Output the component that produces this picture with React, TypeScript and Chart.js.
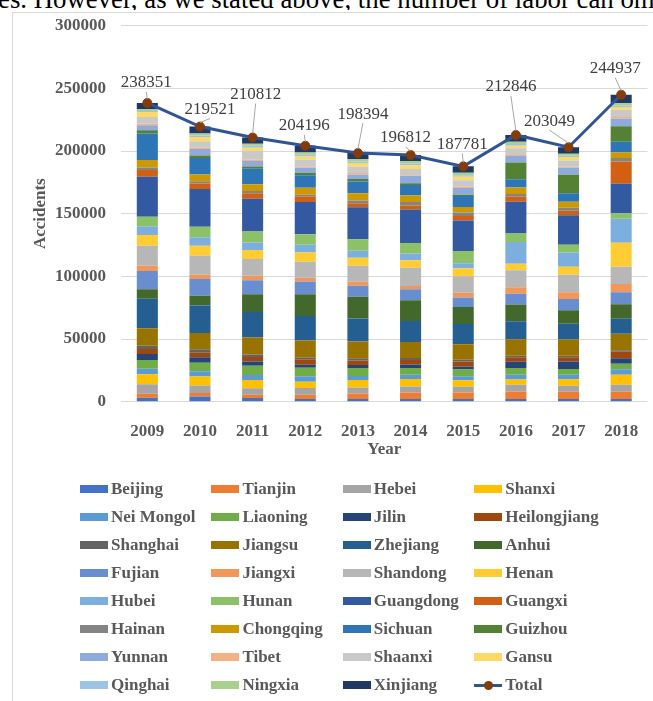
import React, { useEffect, useRef } from "react";
import { Chart, registerables } from "chart.js";
Chart.register(...registerables);

const years = ["2009", "2010", "2011", "2012", "2013", "2014", "2015", "2016", "2017", "2018"];

const Beijing = [3200, 4200, 2900, 2100, 2100, 2100, 2100, 2100, 2100, 2100];
const Tianjin = [3200, 2700, 2700, 3500, 4500, 5300, 5300, 6100, 5900, 5900];
const Hebei = [7500, 6100, 5100, 5300, 4800, 4800, 4500, 5300, 4800, 5600];
const Shanxi = [8000, 7200, 6700, 5100, 5900, 5900, 5300, 4300, 5100, 8000];
const NeiMongol = [4300, 4000, 4000, 4300, 3200, 3500, 3200, 3700, 3700, 4300];
const Liaoning = [7000, 6900, 7200, 6700, 6400, 5300, 5300, 5300, 4500, 4300];
const Jilin = [4800, 4300, 3500, 2400, 2400, 2700, 2400, 5100, 5900, 4500];
const Heilongjiang = [4000, 3700, 3500, 4000, 3500, 3700, 4000, 3500, 3500, 5100];
const Shanghai = [2700, 2700, 2100, 1600, 1900, 1600, 1300, 1300, 1100, 1300];
const Jiangsu = [13900, 13100, 13600, 13900, 13400, 12800, 12500, 13100, 13100, 13100];
const Zhejiang = [23500, 21900, 20300, 19500, 18200, 16600, 16000, 14400, 12500, 12000];
const Anhui = [7700, 7700, 14200, 17400, 17400, 16600, 13600, 13400, 10700, 11500];
const Fujian = [14400, 13300, 11200, 10100, 8800, 8800, 7700, 8500, 9100, 9600];
const Jiangxi = [4300, 3500, 3500, 2900, 3200, 2700, 3700, 5300, 5300, 6700];
const Shandong = [16000, 15200, 13400, 12800, 12800, 14400, 13100, 13400, 13900, 13600];
const Henan = [8500, 8000, 7200, 7500, 6400, 6100, 6400, 5300, 6400, 19200];
const Hubei = [7000, 6700, 5900, 6100, 5600, 5300, 4000, 17400, 11500, 19200];
const Hunan = [7500, 8300, 8800, 8500, 9100, 8500, 9900, 6700, 6100, 4300];
const Guangdong = [32000, 30200, 26200, 25600, 25600, 26700, 24300, 25400, 23500, 23500];
const Guangxi = [5300, 4300, 4300, 4300, 3200, 3200, 3500, 4000, 3700, 17900];
const Hainan = [2100, 1900, 1900, 1600, 2100, 2700, 2900, 2100, 2400, 2700];
const Chongqing = [5900, 5300, 5300, 5600, 5900, 5300, 4300, 5300, 4800, 4500];
const Sichuan = [21100, 13300, 12300, 9900, 9300, 8300, 8800, 6400, 6700, 8500];
const Guizhou = [2700, 1900, 1900, 1900, 1900, 1300, 1100, 13400, 14700, 12300];
const Yunnan = [4000, 5300, 4300, 4000, 3500, 5900, 5300, 5300, 5600, 6100];
const Tibet = [1300, 1100, 1300, 1100, 1300, 500, 1100, 800, 800, 1300];
const Shaanxi = [5300, 5100, 6700, 5300, 5100, 5100, 5100, 5300, 5100, 5900];
const Gansu = [4000, 3200, 2700, 2700, 2900, 2900, 2700, 2100, 2700, 2100];
const Qinghai = [800, 1300, 1600, 1300, 1300, 1600, 1300, 1300, 1100, 1300];
const Ningxia = [1600, 1600, 1600, 1900, 1900, 1900, 1900, 1900, 1600, 1900];
const Xinjiang = [4750, 5500, 4900, 5300, 4800, 4700, 5200, 5300, 5100, 6600];

const Total = [238351, 219521, 210812, 204196, 198394, 196812, 187781, 212846, 203049, 244937];

const provinceNames = [
  "Beijing", "Tianjin", "Hebei", "Shanxi", "Nei Mongol", "Liaoning", "Jilin", "Heilongjiang",
  "Shanghai", "Jiangsu", "Zhejiang", "Anhui", "Fujian", "Jiangxi", "Shandong", "Henan",
  "Hubei", "Hunan", "Guangdong", "Guangxi", "Hainan", "Chongqing", "Sichuan", "Guizhou",
  "Yunnan", "Tibet", "Shaanxi", "Gansu", "Qinghai", "Ningxia", "Xinjiang",
];
const provinceValues = [
  Beijing, Tianjin, Hebei, Shanxi, NeiMongol, Liaoning, Jilin, Heilongjiang,
  Shanghai, Jiangsu, Zhejiang, Anhui, Fujian, Jiangxi, Shandong, Henan,
  Hubei, Hunan, Guangdong, Guangxi, Hainan, Chongqing, Sichuan, Guizhou,
  Yunnan, Tibet, Shaanxi, Gansu, Qinghai, Ningxia, Xinjiang,
];
const palette = [
  "#4472C4", "#ED7D31", "#A5A5A5", "#FFC000", "#5B9BD5", "#70AD47", "#264478", "#9E480E",
  "#636363", "#997300", "#255E91", "#43682B", "#698ED0", "#F1975A", "#B7B7B7", "#FFCD33",
  "#7CAFDD", "#8CC168", "#335AA1", "#D26012", "#848484", "#CC9A00", "#2E75B6", "#548235",
  "#8FAADC", "#F4B183", "#C9C9C9", "#FFD966", "#9DC3E6", "#A9D18E", "#203864",
];
const yTicks = [0, 50000, 100000, 150000, 200000, 250000, 300000];

const FONT = '"Liberation Serif", "Times New Roman", serif';
const TEXT = "#595959";
const LINE_COLOR = "#2F5597";
const DOT_COLOR = "#843C0C";

// label placement relative to each total point (style only)
const labelOffsets = [
  [-1, -20], [10, -17], [3, -43], [-1, -20], [5, -39],
  [-5, -17], [-1, -22], [-5, -48], [-19, -26], [-6, -26],
];

const totalLabelPlugin = {
  id: "totalLabels",
  afterDatasetsDraw(chart: any) {
    const idx = chart.data.datasets.length - 1;
    const meta = chart.getDatasetMeta(idx);
    const ctx = chart.ctx;
    ctx.save();
    ctx.font = `17px ${FONT}`;
    ctx.textAlign = "center";
    ctx.textBaseline = "middle";
    meta.data.forEach((pt: any, i: number) => {
      const [dx, dy] = labelOffsets[i];
      const lx = pt.x + dx;
      const ly = pt.y + dy;
      const bottom = ly + 9;
      if (pt.y - 5 - bottom > 2) {
        ctx.strokeStyle = "#A6A6A6";
        ctx.lineWidth = 1;
        ctx.beginPath();
        ctx.moveTo(lx, bottom);
        ctx.lineTo(pt.x, pt.y - 4);
        ctx.stroke();
      }
      ctx.fillStyle = "#404040";
      ctx.fillText(String(chart.data.datasets[idx].data[i]), lx, ly);
    });
    ctx.restore();
  },
};

function ChartCanvas() {
  const ref = useRef<HTMLCanvasElement | null>(null);
  useEffect(() => {
    if (!ref.current) return;
    const datasets: any[] = provinceNames.map((name, i) => ({
      type: "bar",
      label: name,
      data: provinceValues[i],
      backgroundColor: palette[i],
      borderWidth: 0,
      stack: "prov",
      order: 1,
      barPercentage: 0.4,
      categoryPercentage: 1,
    }));
    datasets.push({
      type: "line",
      label: "Total",
      data: Total,
      borderColor: LINE_COLOR,
      borderWidth: 3,
      pointRadius: 4.5,
      pointBackgroundColor: DOT_COLOR,
      pointBorderColor: DOT_COLOR,
      pointBorderWidth: 1,
      tension: 0,
      stack: "total",
      order: 0,
    });
    const chart = new Chart(ref.current, {
      type: "bar",
      data: { labels: years, datasets },
      options: {
        responsive: false,
        animation: false,
        devicePixelRatio: 1,
        layout: { padding: { left: 0, right: 4, top: 25.7, bottom: 701 - 401.7 - 60 } },
        plugins: { legend: { display: false }, tooltip: { enabled: false } },
        scales: {
          x: {
            stacked: true,
            grid: { display: false },
            border: { display: false },
            ticks: { font: { family: FONT, size: 17, weight: "bold" }, color: TEXT, padding: 12 },
            title: {
              display: true,
              text: "Year",
              font: { family: FONT, size: 17, weight: "bold" },
              color: TEXT,
              padding: { top: 0, bottom: 1.5 },
            },
            afterFit: (s: any) => { s.height = 60; },
          },
          y: {
            stacked: true,
            min: yTicks[0],
            max: yTicks[yTicks.length - 1],
            afterBuildTicks: (s: any) => { s.ticks = yTicks.map((v) => ({ value: v })); },
            ticks: {
              font: { family: FONT, size: 17, weight: "bold" },
              color: TEXT,
              padding: 15,
              callback: (v: any) => String(v),
            },
            grid: { color: "#D9D9D9", drawTicks: false, lineWidth: 1 },
            border: { display: false },
            title: {
              display: true,
              text: "Accidents",
              font: { family: FONT, size: 17, weight: "bold" },
              color: TEXT,
              padding: { top: 30, bottom: 0 },
            },
            afterFit: (s: any) => { s.width = 121; },
          },
        },
      } as any,
      plugins: [totalLabelPlugin],
    } as any);
    return () => chart.destroy();
  }, []);
  return (
    <canvas
      ref={ref}
      width={653}
      height={701}
      style={{ position: "absolute", left: 0, top: 0, width: 653, height: 701 }}
    />
  );
}

function Legend() {
  const items = [...provinceNames.map((n, i) => ({ name: n, color: palette[i], line: false })),
    { name: "Total", color: LINE_COLOR, line: true }];
  return (
    <>
      {items.map((it, k) => {
        const r = Math.floor(k / 4);
        const c = k % 4;
        const left = 80 + c * 131.4;
        const cy = 489 + r * 28;
        return (
          <div key={it.name} style={{ position: "absolute", left, top: cy - 11, height: 22, display: "flex", alignItems: "center" }}>
            {it.line ? (
              <div style={{ position: "relative", width: 28, height: 10 }}>
                <div style={{ position: "absolute", left: 0, top: 3.5, width: 28, height: 3, background: LINE_COLOR }} />
                <div style={{ position: "absolute", left: 9.5, top: 0.5, width: 9, height: 9, borderRadius: "50%", background: DOT_COLOR }} />
              </div>
            ) : (
              <div style={{ width: 28, height: 8.5, background: it.color }} />
            )}
            <span style={{ marginLeft: 3, font: `bold 17px ${FONT}`, color: TEXT, whiteSpace: "nowrap", lineHeight: "22px" }}>{it.name}</span>
          </div>
        );
      })}
    </>
  );
}

export default function App() {
  return (
    <div style={{ position: "absolute", left: 0, top: 0, width: 653, height: 701, overflow: "hidden", background: "#fff" }}>
      <div style={{ position: "absolute", left: 0, top: 0, width: 653, height: 10, overflow: "hidden" }}>
        <div style={{ position: "absolute", left: -2, top: -14, whiteSpace: "nowrap", font: `26.8px ${FONT}`, lineHeight: "26.8px", color: "#000" }}>
          es. However, as we stated above, the number of labor can om
        </div>
      </div>
      <div style={{ position: "absolute", left: 12, top: 12, width: 800, height: 800, borderLeft: "1px solid #D9D9D9", borderTop: "1px solid #D9D9D9" }} />
      <ChartCanvas />
      <Legend />
    </div>
  );
}
